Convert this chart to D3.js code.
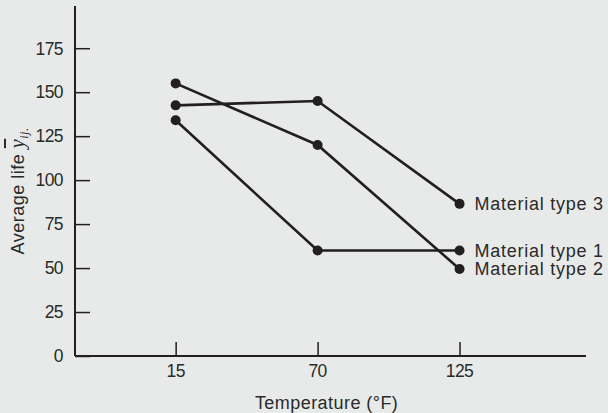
<!DOCTYPE html>
<html>
<head>
<meta charset="utf-8">
<script src="https://cdn.jsdelivr.net/npm/d3@7"></script>
<style>
  body { margin: 0; background: #e8eaea; }
  svg { display: block; font-family: "Liberation Sans", Arial, sans-serif; }
</style>
</head>
<body>
<svg id="chart" width="608" height="413"></svg>
<script>
// donnees
const temperatures = [15, 70, 125]
const materials = ["Material type 1", "Material type 2", "Material type 3"]
const avgLife1 = [134, 60, 60]
const avgLife2 = [155, 120, 49.5]
const avgLife3 = [142.5, 145, 86.5]
const yTicks = [0, 25, 50, 75, 100, 125, 150, 175]

const series = [avgLife1, avgLife2, avgLife3]
const ink = "#231f20"
const textInk = "#2a2a2a"

const svg = d3.select("#chart")

const x = d3.scaleLinear().domain([-24, 174]).range([75, 586])
const y = d3.scaleLinear().domain([0, 199]).range([356, 6])

// axe y
svg.append("line")
  .attr("x1", x(-24)).attr("x2", x(-24))
  .attr("y1", y(199)).attr("y2", y(0))
  .attr("stroke", ink).attr("stroke-width", 2)

svg.append("g")
  .attr("transform", "translate(" + x(-24) + ",0)")
  .call(d3.axisRight(y).tickValues(yTicks).tickSize(15).tickFormat(""))
  .call(g => g.select(".domain").remove())
  .call(g => g.selectAll("line").attr("stroke", ink).attr("stroke-width", 1.5))

svg.append("g").selectAll("text")
  .data(yTicks)
  .join("text")
  .attr("x", 63).attr("y", d => y(d))
  .attr("dy", "0.36em")
  .attr("text-anchor", "end")
  .attr("font-size", 17.5)
  .attr("letter-spacing", -0.6)
  .attr("fill", textInk)
  .text(d => d)

// axe x
svg.append("line")
  .attr("x1", x(-24)).attr("x2", x(174))
  .attr("y1", y(0)).attr("y2", y(0))
  .attr("stroke", ink).attr("stroke-width", 2)

svg.append("g")
  .attr("transform", "translate(0," + y(0) + ")")
  .call(d3.axisTop(x).tickValues(temperatures).tickSize(14).tickFormat(""))
  .call(g => g.select(".domain").remove())
  .call(g => g.selectAll("line").attr("stroke", ink).attr("stroke-width", 1.5))

svg.append("g").selectAll("text")
  .data(temperatures)
  .join("text")
  .attr("x", d => x(d)).attr("y", 377)
  .attr("text-anchor", "middle")
  .attr("font-size", 17.5)
  .attr("letter-spacing", -0.6)
  .attr("fill", textInk)
  .text(d => d)

// titres des axes
svg.append("text")
  .attr("x", x(70) + 9).attr("y", 409)
  .attr("text-anchor", "middle")
  .attr("font-size", 18)
  .attr("letter-spacing", 0.45)
  .attr("fill", textInk)
  .text("Temperature (°F)")

const yLabel = svg.append("text")
  .attr("transform", "translate(24,191) rotate(-90)")
  .attr("text-anchor", "middle")
  .attr("font-size", 18)
  .attr("letter-spacing", 0.5)
  .attr("fill", textInk)
yLabel.append("tspan").text("Average life ")
yLabel.append("tspan").attr("font-family", "Liberation Serif, serif")
  .attr("font-style", "italic").attr("font-size", 20)
  .attr("text-decoration", "overline").text("y")
yLabel.append("tspan").attr("font-family", "Liberation Serif, serif")
  .attr("font-style", "italic").attr("font-size", 12).attr("dy", 4).text("ij.")

// lignes et points
const line = d3.line().x((d, i) => x(temperatures[i])).y(d => y(d))

series.forEach((vals, k) => {
  svg.append("path")
    .attr("d", line(vals))
    .attr("fill", "none")
    .attr("stroke", ink)
    .attr("stroke-width", 2.6)

  svg.append("g").selectAll("circle")
    .data(vals)
    .join("circle")
    .attr("cx", (d, i) => x(temperatures[i]))
    .attr("cy", d => y(d))
    .attr("r", 5)
    .attr("fill", ink)

  svg.append("text")
    .attr("x", x(125) + 15)
    .attr("y", y(vals[vals.length - 1]))
    .attr("dy", "0.36em")
    .attr("font-size", 18)
    .attr("letter-spacing", 0.75)
    .attr("fill", textInk)
    .text(materials[k])
})
</script>
</body>
</html>
